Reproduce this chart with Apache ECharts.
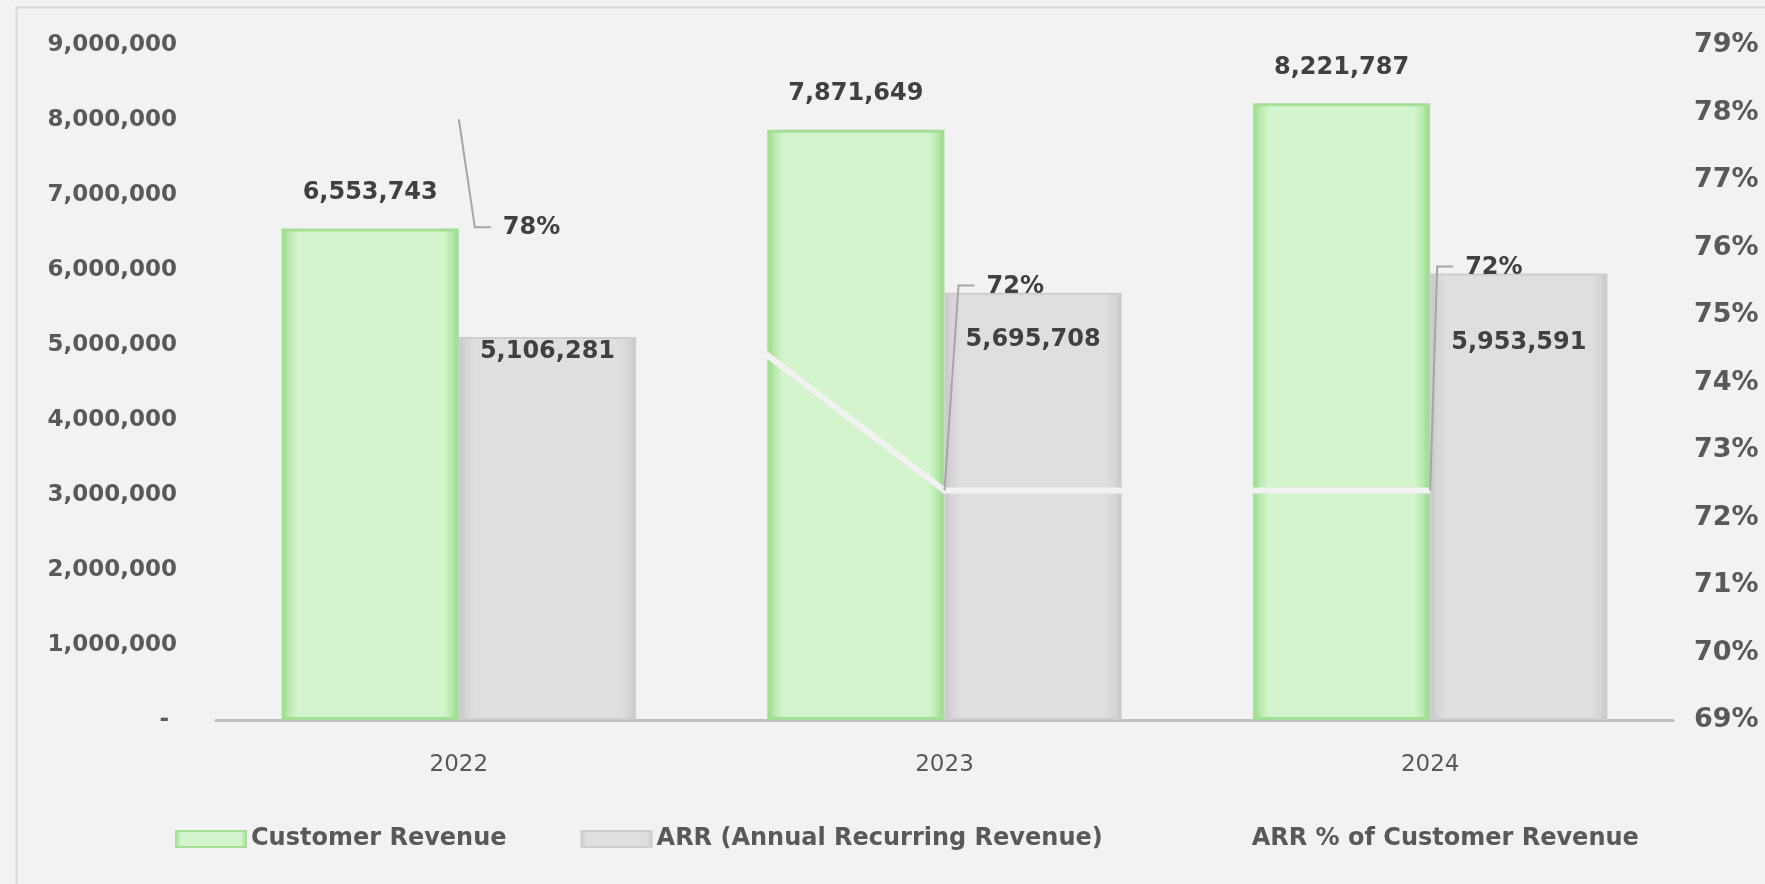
<!DOCTYPE html>
<html>
<head>
<meta charset="utf-8">
<script src="https://cdn.jsdelivr.net/npm/echarts@6/dist/echarts.min.js"></script>
<style>
  html, body { margin: 0; padding: 0; background: #f2f2f2; }
  #main { width: 1765px; height: 884px; }
</style>
</head>
<body>
<div id="main"></div>
<script>
// values
const years = ['2022', '2023', '2024'];
const customerRevenue = [6553743, 7871649, 8221787];
const arrRevenue = [5106281, 5695708, 5953591];
const arrPct = [77.9, 72.4, 72.4];

// axis ranges
const revMin = 0, revMax = 9000000, revStep = 1000000;
const pctMin = 69, pctMax = 79, pctStep = 1;

// hand-placed label spots (as in the original sheet)
const arrLabelY = [352, 340, 343];
const pctLabelOffset = [[44, 109], [42, -204], [35, -223]];   // label left / middle, relative to the point

const fmt = v => Number(v).toLocaleString('en-US');
const FONT = 'DejaVu Sans';

const chart = echarts.init(document.getElementById('main'), null, { renderer: 'canvas' });

const hGrad = (edge, mid, mid2) => new echarts.graphic.LinearGradient(0, 0, 1, 0, [
  { offset: 0, color: edge },
  { offset: 0.04, color: mid2 },
  { offset: 0.09, color: mid },
  { offset: 0.91, color: mid },
  { offset: 0.96, color: mid2 },
  { offset: 1, color: edge }
]);

// percent labels with their leader lines
function renderPctLabel(params, api) {
  const pt = api.coord([api.value(0), api.value(1)]);
  const off = pctLabelOffset[params.dataIndex];
  const lx = pt[0] + off[0];
  const ly = pt[1] + off[1];
  return {
    type: 'group',
    children: [{
      type: 'polyline',
      shape: { points: [pt, [lx - 28, ly - 1], [lx - 12, ly - 1]] },
      style: { stroke: '#a6a6a6', lineWidth: 2, fill: null }
    }, {
      type: 'text',
      style: {
        text: Math.round(api.value(1)) + '%',
        x: lx, y: ly,
        align: 'left', verticalAlign: 'middle',
        fill: '#404040',
        font: 'bold 24px "' + FONT + '"'
      }
    }]
  };
}

chart.setOption({
  backgroundColor: '#f2f2f2',
  animation: false,
  graphic: [{
    type: 'rect',
    left: 14, top: 5,
    shape: { width: 1800, height: 900 },
    style: { fill: 'none', stroke: '#d9d9d9', lineWidth: 2 },
    silent: true
  }],
  grid: { left: 216, right: 92, top: 45, bottom: 164, outerBoundsMode: 'none' },
  legend: {
    left: 170, top: 822,
    itemWidth: 70, itemHeight: 16, itemGap: 74,
    textStyle: { fontFamily: FONT, fontWeight: 'bold', fontSize: 24, color: '#595959' },
    data: [
      { name: 'Customer Revenue', icon: 'rect' },
      { name: 'ARR (Annual Recurring Revenue)', icon: 'rect' },
      { name: 'ARR % of Customer Revenue', icon: 'rect' }
    ]
  },
  xAxis: {
    type: 'category',
    data: years,
    axisLine: { lineStyle: { color: '#bfbfbf', width: 3 } },
    axisTick: { show: false },
    axisLabel: { fontFamily: FONT, fontSize: 23, color: '#595959', margin: 34 }
  },
  yAxis: [{
    type: 'value',
    min: revMin, max: revMax, interval: revStep,
    splitLine: { show: false },
    axisLine: { show: false },
    axisTick: { show: false },
    axisLabel: {
      fontFamily: FONT, fontWeight: 'bold', fontSize: 23, color: '#595959', margin: 39,
      formatter: v => v === 0 ? '- ' : fmt(v)
    }
  }, {
    type: 'value',
    min: pctMin, max: pctMax, interval: pctStep,
    splitLine: { show: false },
    axisLine: { show: false },
    axisTick: { show: false },
    axisLabel: {
      fontFamily: FONT, fontWeight: 'bold', fontSize: 27, color: '#595959', margin: 21,
      formatter: v => v + '%'
    }
  }],
  series: [{
    name: 'Customer Revenue',
    type: 'bar',
    data: customerRevenue,
    barGap: '0%',
    barCategoryGap: '27%',
    itemStyle: { color: hGrad('#8fd781', '#d4f4cd', '#b8e9ad'), borderColor: '#a4df96', borderWidth: 3 },
    label: {
      show: true, position: 'top', distance: 22,
      fontFamily: FONT, fontWeight: 'bold', fontSize: 24, lineHeight: 28, color: '#404040',
      formatter: p => fmt(p.value)
    }
  }, {
    name: 'ARR (Annual Recurring Revenue)',
    type: 'bar',
    data: arrRevenue,
    itemStyle: { color: hGrad('#c6c6c6', '#dfdfdf', '#d5d5d5'), borderColor: '#cdcdcd', borderWidth: 2 },
    label: {
      show: true, position: 'insideTop',
      fontFamily: FONT, fontWeight: 'bold', fontSize: 24, lineHeight: 28, color: '#404040',
      formatter: p => fmt(p.value)
    },
    labelLayout: p => ({ y: arrLabelY[p.dataIndex], align: 'center', verticalAlign: 'middle' })
  }, {
    name: 'ARR % of Customer Revenue',
    type: 'line',
    yAxisIndex: 1,
    data: arrPct,
    z: 5,
    showSymbol: false,
    itemStyle: { color: '#f2f2f2' },
    lineStyle: { color: '#f2f2f2', width: 6 }
  }, {
    name: 'pct-labels',
    type: 'custom',
    yAxisIndex: 1,
    z: 6,
    silent: true,
    data: arrPct.map((v, i) => [i, v]),
    renderItem: renderPctLabel
  }]
});
</script>
</body>
</html>
